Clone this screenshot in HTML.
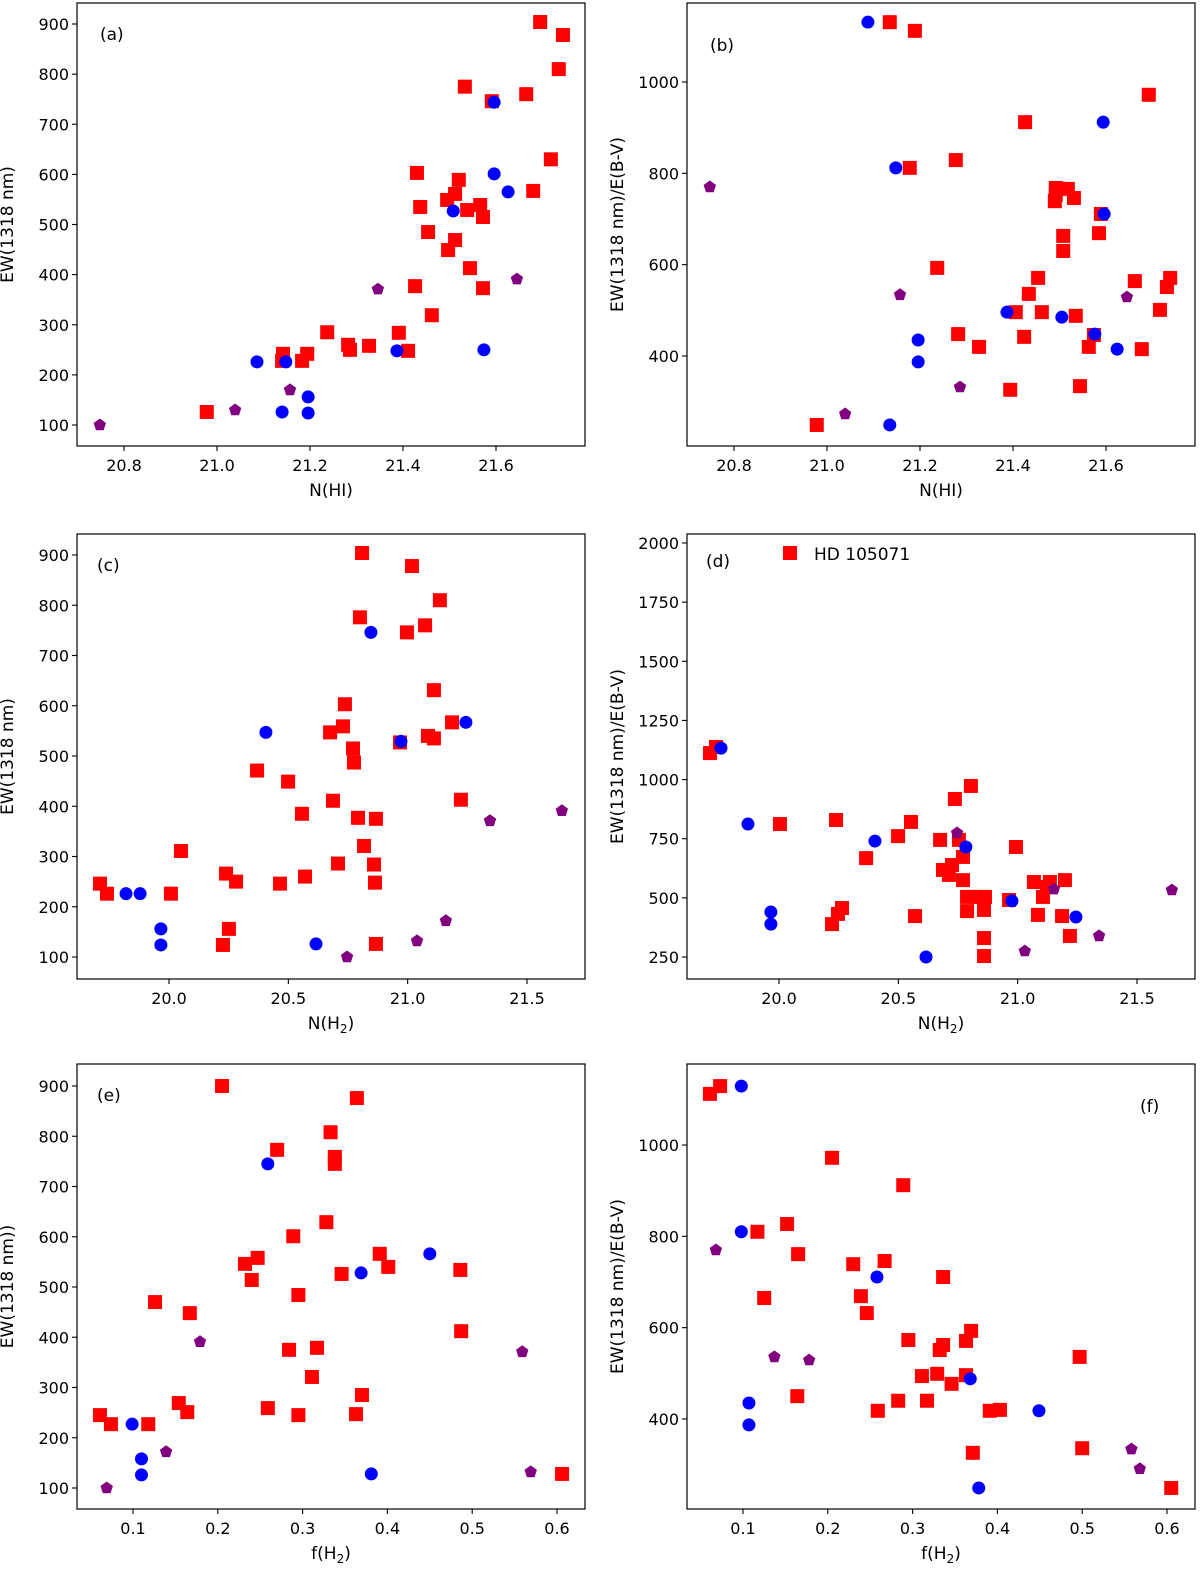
<!DOCTYPE html>
<html><head><meta charset="utf-8">
<style>
html,body{margin:0;padding:0;background:#fff;}
svg{display:block;font-family:"DejaVu Sans","Liberation Sans",sans-serif;}
</style></head>
<body>
<svg id="chart" width="1200" height="1570" viewBox="0 0 1200 1570" xmlns="http://www.w3.org/2000/svg"></svg>
<script>
// ---- data (panel a: N(HI) vs EW) ----
const aRedX=[21.695,21.744,21.735,21.665,21.591,21.533,21.718,21.430,21.520,21.680,21.512,21.495,21.538,21.566,21.437,21.572,21.454,21.512,21.497,21.544,21.572,21.426,21.462,21.391,21.411,21.237,21.282,21.286,21.327,21.194,21.142,21.183,21.140,20.978];
const aRedY=[904,878,810,760,746,775,630,603,589,567,561,549,529,539,535,515,485,469,449,413,373,377,319,284,248,285,260,250,258,242,242,228,228,126];
const aBlueX=[21.596,21.596,21.626,21.508,21.086,21.148,21.387,21.574,21.140,21.196,21.196];
const aBlueY=[744,601,565,527,226,226,248,250,126,156,124];
const aPurX=[20.748,21.039,21.157,21.346,21.645];
const aPurY=[100,130,170,371,391];
// ---- panel b: N(HI) vs EW/E(B-V) ----
const bRedX=[21.135,21.189,21.692,21.426,21.277,21.178,21.492,21.518,21.492,21.531,21.490,21.589,21.508,21.585,21.508,21.237,21.454,21.662,21.738,21.731,21.434,21.406,21.462,21.535,21.716,21.424,21.282,21.327,21.563,21.677,21.574,21.544,21.394,20.978];
const bRedY=[1131,1112,972,912,829,812,768,766,753,746,739,711,663,669,630,593,571,564,571,551,536,496,496,488,501,442,448,420,420,415,446,334,326,249];
const bBlueX=[21.088,21.148,21.594,21.596,21.387,21.505,21.576,21.196,21.196,21.624,21.135];
const bBlueY=[1131,812,912,711,496,485,448,435,387,415,249];
const bPurX=[20.748,21.157,21.039,21.286,21.645];
const bPurY=[770,534,273,332,529];
// ---- panel c: N(H2) vs EW ----
const cRedX=[20.809,20.800,21.018,21.135,21.073,20.997,21.110,20.737,21.186,20.729,20.675,20.771,21.085,21.110,20.968,20.775,20.369,20.499,21.223,20.687,20.557,20.792,20.867,20.817,20.050,20.859,20.708,20.239,20.281,20.570,20.465,20.863,19.711,19.740,20.008,20.251,20.226,20.867];
const cRedY=[904,776,878,810,760,746,631,603,567,559,547,515,540,535,527,487,471,449,413,411,385,377,375,321,311,284,286,266,250,260,246,248,246,226,226,156,124,126];
const cBlueX=[20.846,20.406,20.972,21.244,19.820,19.879,19.966,19.966,20.616];
const cBlueY=[746,547,529,567,226,226,156,124,126];
const cPurX=[20.746,21.039,21.160,21.345,21.646];
const cPurY=[100,132,172,371,391];
// ---- panel d: N(H2) vs EW/E(B-V) ----
const dRedX=[19.711,19.736,20.004,20.239,20.553,20.499,20.365,20.737,20.804,20.675,20.754,20.687,20.712,20.725,20.771,20.771,20.788,20.788,20.817,20.863,20.859,20.859,20.859,20.993,21.068,21.085,21.106,21.123,21.135,21.198,21.186,21.219,20.964,20.570,20.222,20.247,20.264];
const dRedY=[1112,1138,812,829,821,761,668,918,973,745,745,618,597,639,673,575,504,444,504,504,449,330,254,715,567,428,504,546,567,575,423,339,491,423,389,432,457];
const dBlueX=[19.757,19.870,20.402,20.783,20.976,21.244,19.966,19.966,20.616];
const dBlueY=[1133,812,740,715,487,419,440,389,250];
const dPurX=[20.746,21.030,21.152,21.341,21.646];
const dPurY=[774,275,537,339,533];
// ---- panel e: f(H2) vs EW ----
const eRedX=[0.205,0.270,0.333,0.364,0.338,0.338,0.328,0.289,0.232,0.247,0.240,0.295,0.346,0.391,0.401,0.486,0.487,0.126,0.167,0.284,0.317,0.311,0.370,0.363,0.295,0.259,0.154,0.164,0.061,0.074,0.118,0.606];
const eRedY=[900,773,808,876,759,745,629,601,546,558,514,484,526,566,540,534,412,470,448,375,379,321,285,247,245,259,269,251,245,227,227,128];
const eBlueX=[0.259,0.369,0.450,0.099,0.110,0.110,0.381];
const eBlueY=[745,528,566,227,158,126,128];
const ePurX=[0.069,0.139,0.179,0.559,0.569];
const ePurY=[100,172,391,371,132];
// ---- panel f: f(H2) vs EW/E(B-V) ----
const fRedX=[0.061,0.073,0.205,0.289,0.152,0.117,0.165,0.267,0.230,0.336,0.125,0.239,0.246,0.295,0.369,0.363,0.336,0.332,0.329,0.311,0.346,0.363,0.283,0.317,0.497,0.391,0.403,0.259,0.164,0.371,0.500,0.605];
const fRedY=[1112,1129,972,912,827,810,761,746,739,711,665,669,632,573,593,571,562,551,499,494,477,496,440,440,536,418,420,418,450,326,336,249];
const fBlueX=[0.098,0.098,0.258,0.368,0.449,0.107,0.107,0.378];
const fBlueY=[1129,810,711,488,418,435,387,249];
const fPurX=[0.068,0.137,0.178,0.558,0.568];
const fPurY=[770,536,529,334,291];
// ---- ticks ----
const ticksEW=[100,200,300,400,500,600,700,800,900];
const ticksRatio=[400,600,800,1000];
const ticksRatioD=[250,500,750,1000,1250,1500,1750,2000];
const ticksHI=[20.8,21.0,21.2,21.4,21.6];
const ticksH2=[20.0,20.5,21.0,21.5];
const ticksF=[0.1,0.2,0.3,0.4,0.5,0.6];

const NS="http://www.w3.org/2000/svg";
const svg=document.getElementById('chart');
function mk(tag,attrs,parent){const e=document.createElementNS(NS,tag);for(const k in attrs)e.setAttribute(k,attrs[k]);(parent||svg).appendChild(e);return e;}
function lin(v1,p1,v2,p2){return v=>p1+(v-v1)*(p2-p1)/(v2-v1);}

const panels=[
 {id:'a',x0:77,x1:585,y0:3,y1:446,xs:lin(20.8,124,21.6,496),ys:lin(100,425,900,24),xt:ticksHI,yt:ticksEW,xd:1,xl:'N(HI)',yl:'EW(1318 nm)',lab:'(a)',lx:100,ly:40,
  r:[aRedX,aRedY],b:[aBlueX,aBlueY],p:[aPurX,aPurY]},
 {id:'b',x0:687,x1:1195,y0:3,y1:446,xs:lin(20.8,734,21.6,1106),ys:lin(400,356,1000,82),xt:ticksHI,yt:ticksRatio,xd:1,xl:'N(HI)',yl:'EW(1318 nm)/E(B-V)',lab:'(b)',lx:710,ly:51,
  r:[bRedX,bRedY],b:[bBlueX,bBlueY],p:[bPurX,bPurY]},
 {id:'c',x0:77,x1:585,y0:534,y1:979,xs:lin(20.0,169,21.5,527),ys:lin(100,957,900,555),xt:ticksH2,yt:ticksEW,xd:1,xl:'N(H2)',yl:'EW(1318 nm)',lab:'(c)',lx:97,ly:571,
  r:[cRedX,cRedY],b:[cBlueX,cBlueY],p:[cPurX,cPurY]},
 {id:'d',x0:687,x1:1195,y0:534,y1:979,xs:lin(20.0,779,21.5,1137),ys:lin(250,957,2000,543),xt:ticksH2,yt:ticksRatioD,xd:1,xl:'N(H2)',yl:'EW(1318 nm)/E(B-V)',lab:'(d)',lx:706,ly:567,
  r:[dRedX,dRedY],b:[dBlueX,dBlueY],p:[dPurX,dPurY],legend:true},
 {id:'e',x0:77,x1:585,y0:1064,y1:1509,xs:lin(0.1,133,0.6,557),ys:lin(100,1488,900,1086),xt:ticksF,yt:ticksEW,xd:1,xl:'f(H2)',yl:'EW(1318 nm))',lab:'(e)',lx:97,ly:1101,
  r:[eRedX,eRedY],b:[eBlueX,eBlueY],p:[ePurX,ePurY]},
 {id:'f',x0:687,x1:1195,y0:1064,y1:1509,xs:lin(0.1,743,0.6,1167),ys:lin(400,1419,1000,1145),xt:ticksF,yt:ticksRatio,xd:1,xl:'f(H2)',yl:'EW(1318 nm)/E(B-V)',lab:'(f)',lx:1140,ly:1112,
  r:[fRedX,fRedY],b:[fBlueX,fBlueY],p:[fPurX,fPurY]}
];

function square(g,cx,cy){const e=mk('rect',{x:cx-7,y:cy-7,width:14,height:14,fill:'#ff0000'},g);

}
function circle(g,cx,cy){const e=mk('circle',{cx:cx,cy:cy,r:6.5,fill:'#0000ff'},g);

}
function penta(g,cx,cy){let pts=[];for(let i=0;i<5;i++){const a=-Math.PI/2+i*2*Math.PI/5;pts.push((cx+6.5*Math.cos(a)).toFixed(1)+','+(cy+6.5*Math.sin(a)).toFixed(1));}
const e=mk('polygon',{points:pts.join(' '),fill:'#800080'},g);

}

function fmtX(v,arr){return arr===ticksF?v.toFixed(1):v.toFixed(1);}

panels.forEach(P=>{
 const g=mk('g',{});
 
 
 const cp=mk('clipPath',{id:'clip'+P.id},g);
 mk('rect',{x:P.x0,y:P.y0,width:P.x1-P.x0,height:P.y1-P.y0},cp);
 const pts=mk('g',{'clip-path':'url(#clip'+P.id+')'},g);
 
 
 P.r[0].forEach((x,i)=>square(pts,P.xs(x),P.ys(P.r[1][i])));
 P.b[0].forEach((x,i)=>circle(pts,P.xs(x),P.ys(P.b[1][i])));
 P.p[0].forEach((x,i)=>penta(pts,P.xs(x),P.ys(P.p[1][i])));
 const box=mk('rect',{x:P.x0,y:P.y0,width:P.x1-P.x0,height:P.y1-P.y0,fill:'none',stroke:'#000','stroke-width':1.2},g);
 
 
 P.xt.forEach(v=>{const x=P.xs(v);
  mk('line',{x1:x,y1:P.y1,x2:x,y2:P.y1+5,stroke:'#000','stroke-width':1.1},g);
  const t=mk('text',{x:x,y:P.y1+25,'font-size':16,'text-anchor':'middle',fill:'#000'},g);t.textContent=v.toFixed(1);
  
  });
 P.yt.forEach(v=>{const y=P.ys(v);
  mk('line',{x1:P.x0-5,y1:y,x2:P.x0,y2:y,stroke:'#000','stroke-width':1.1},g);
  const t=mk('text',{x:P.x0-8,y:y+6,'font-size':16,'text-anchor':'end',fill:'#000'},g);t.textContent=String(v);
  
  });
 const xl=mk('text',{x:(P.x0+P.x1)/2,y:P.y1+50,'font-size':17,'text-anchor':'middle',fill:'#000'},g);
 if(P.xl==='N(H2)'){xl.innerHTML='N(H<tspan font-size="12" dy="4">2</tspan><tspan dy="-4">)</tspan>';}
 else if(P.xl==='f(H2)'){xl.innerHTML='f(H<tspan font-size="12" dy="4">2</tspan><tspan dy="-4">)</tspan>';}
 else xl.textContent=P.xl;
 
 
 const cy=(P.y0+P.y1)/2, lx=P.x0-64;
 const yl=mk('text',{x:lx,y:cy,'font-size':17,'text-anchor':'middle',fill:'#000',transform:'rotate(-90 '+lx+' '+cy+')'},g);
 yl.textContent=P.yl;
 
 
 const lb=mk('text',{x:P.lx,y:P.ly,'font-size':17,fill:'#000'},g);lb.textContent=P.lab;
 
 
 if(P.legend){
  const lg=mk('g',{},g);
  
  
  mk('rect',{x:783,y:546,width:14,height:14,fill:'#ff0000'},lg);
  const lt=mk('text',{x:814,y:560,'font-size':17,fill:'#000'},lg);lt.textContent='HD 105071';
 }
});
</script>
</body></html>
